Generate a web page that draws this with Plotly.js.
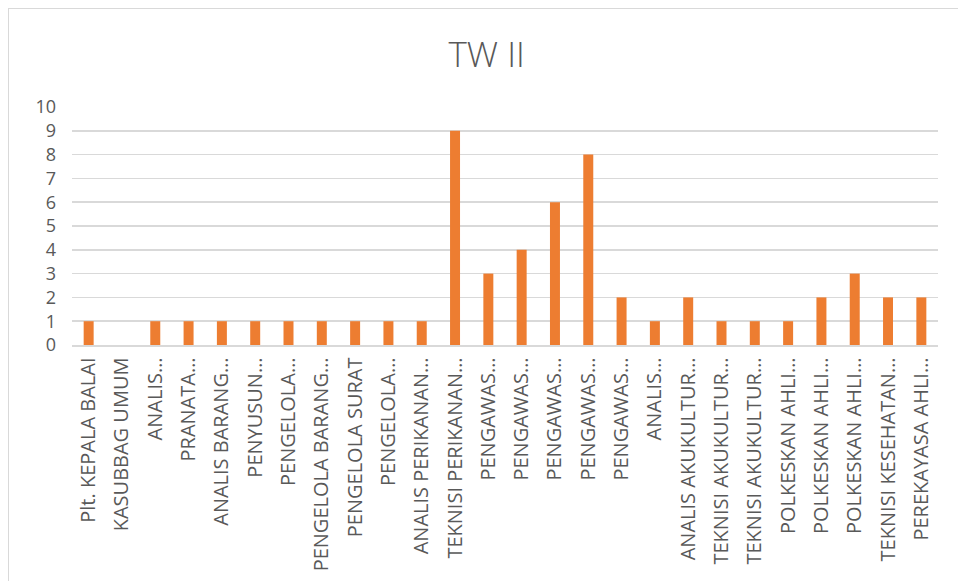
<!DOCTYPE html>
<html>
<head>
<meta charset="utf-8">
<script src="https://cdn.plot.ly/plotly-3.0.1.min.js"></script>
<style>
body{margin:0;padding:0;background:#fff;}
#frame{position:absolute;left:8px;top:8px;width:980px;height:620px;border:1.5px solid #d9d9d9;box-sizing:border-box;}
#chart{position:absolute;left:0;top:0;width:958px;height:581px;}
</style>
</head>
<body>
<div id="frame"></div>
<div id="chart"></div>
<script>
const categories = [
  "Plt. KEPALA BALAI", "KASUBBAG UMUM", "ANALIS…", "PRANATA…", "ANALIS BARANG…",
  "PENYUSUN…", "PENGELOLA…", "PENGELOLA BARANG…", "PENGELOLA SURAT", "PENGELOLA…",
  "ANALIS PERIKANAN…", "TEKNISI PERIKANAN…", "PENGAWAS…", "PENGAWAS…", "PENGAWAS…",
  "PENGAWAS…", "PENGAWAS…", "ANALIS…", "ANALIS AKUKULTUR…", "TEKNISI AKUKULTUR…",
  "TEKNISI AKUKULTUR…", "POLKESKAN AHLI…", "POLKESKAN AHLI…", "POLKESKAN AHLI…",
  "TEKNISI KESEHATAN…", "PEREKAYASA AHLI…"
];
const values = [1, 0, 1, 1, 1, 1, 1, 1, 1, 1, 1, 9, 3, 4, 6, 8, 2, 1, 2, 1, 1, 1, 2, 3, 2, 2];
const yTicks = [0, 1, 2, 3, 4, 5, 6, 7, 8, 9, 10];
const titleText = "TW II";

const idx = categories.map((c, i) => i);

const trace = {
  type: "bar",
  x: idx,
  y: values,
  marker: {color: "#ED7D31"},
  hoverinfo: "y"
};

const layout = {
  width: 958,
  height: 581,
  margin: {l: 72, r: 20, t: 107, b: 236},
  paper_bgcolor: "rgba(0,0,0,0)",
  plot_bgcolor: "rgba(0,0,0,0)",
  bargap: 0.7,
  showlegend: false,
  font: {family: "Open Sans, sans-serif", color: "#595959", size: 16},
  title: {
    text: titleText,
    font: {family: "Open Sans, sans-serif", size: 35, color: "#595959", weight: 300},
    x: 0.508, xref: "container", xanchor: "center",
    y: 0.905, yref: "container", yanchor: "middle"
  },
  xaxis: {
    tickmode: "array",
    tickvals: idx,
    ticktext: categories,
    tickangle: -90,
    range: [-0.5, categories.length - 0.5],
    showgrid: false,
    showline: true,
    linecolor: "#d9d9d9",
    linewidth: 1.5,
    ticks: "",
    ticklabelstandoff: 3,
    tickfont: {size: 20, color: "#595959"},
    fixedrange: true
  },
  yaxis: {
    range: [0, 10],
    tickmode: "array",
    tickvals: yTicks,
    ticktext: yTicks.map(String),
    showgrid: true,
    gridcolor: "#d9d9d9",
    gridwidth: 1.5,
    zeroline: false,
    showline: false,
    ticks: "",
    ticklabelstandoff: 15,
    tickfont: {size: 18, color: "#595959"},
    fixedrange: true
  }
};

Plotly.newPlot("chart", [trace], layout, {displayModeBar: false, staticPlot: true});
</script>
</body>
</html>
